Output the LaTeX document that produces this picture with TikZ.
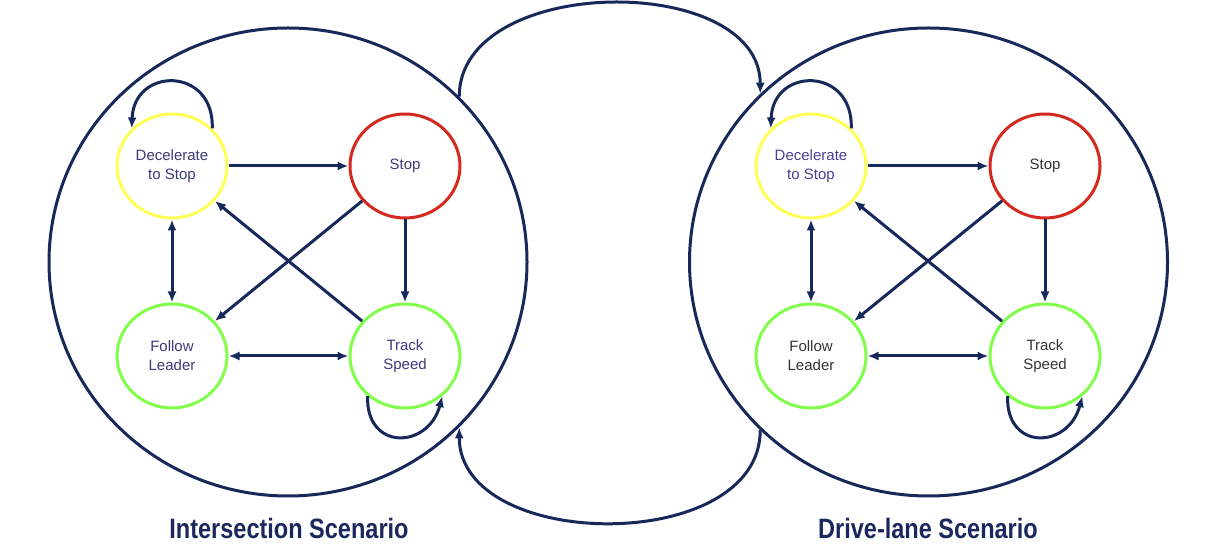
\documentclass[tikz,border=0pt]{standalone}
\usepackage{fontspec}
\setmainfont{Liberation Sans}
\usetikzlibrary{arrows.meta,shapes.geometric}
\definecolor{navy}{HTML}{17295A}
\definecolor{titlenavy}{HTML}{1C275E}
\definecolor{lnav}{HTML}{3A3A7C}
\definecolor{rpurp}{HTML}{4A3F92}
\definecolor{rgray}{HTML}{333333}
\definecolor{syellow}{HTML}{FFFF55}
\definecolor{sred}{HTML}{D22A1E}
\definecolor{sgreen}{HTML}{80FF4A}
\begin{document}
\begin{tikzpicture}[x=1pt,y=1pt,
  big/.style={ellipse, draw=navy, line width=3pt, minimum width=478pt, minimum height=468pt, inner sep=0pt},
  st/.style={ellipse, line width=3pt, minimum width=110pt, minimum height=104pt, inner sep=0pt, align=center, font=\fontsize{15}{19}\selectfont},
  yel/.style={st, draw=syellow},
  rd/.style={st, draw=sred},
  gr/.style={st, draw=sgreen},
  conn/.style={draw=navy, line width=3pt, -{Latex[length=11pt,width=9pt]}},
  dconn/.style={draw=navy, line width=3pt, {Latex[length=11pt,width=9pt]}-{Latex[length=11pt,width=9pt]}},
  ttl/.style={font=\fontsize{28}{32}\selectfont\bfseries, text=titlenavy, anchor=base}
]
\useasboundingbox (0,0) rectangle (1213,557);

% big scenario circles
\node[big] (L) at (288,295) {};
\node[big] (R) at (928.5,295) {};

% left states
\node[yel, text=lnav] (Ldec) at (172,391) {Decelerate\\to Stop};
\node[rd, text=lnav] (Lstop) at (405,391) {Stop};
\node[gr, text=lnav] (Lfol) at (172,201) {Follow\\Leader};
\node[gr, text=lnav] (Ltrk) at (405,201) {Track\\Speed};

% right states
\node[yel, text=rpurp] (Rdec) at (811,391) {Decelerate\\to Stop};
\node[rd, text=rgray] (Rstop) at (1045,391) {Stop};
\node[gr, text=rgray] (Rfol) at (811,201) {Follow\\Leader};
\node[gr, text=rgray] (Rtrk) at (1045,201) {Track\\Speed};

% left connectors
\draw[conn] (Ldec) -- (Lstop);
\draw[conn] (Lstop) -- (Ltrk);
\draw[dconn] (Ldec) -- (Lfol);
\draw[dconn] (Lfol) -- (Ltrk);
\draw[conn] (Lstop) -- (Lfol);
\draw[conn] (Ltrk) -- (Ldec);
\draw[conn] (Ldec.43) .. controls +(88:62) and +(88:62) .. (Ldec.137);
\draw[conn] (Ltrk.-133) .. controls +(-92:55) and +(-105:55) .. (Ltrk.-47);

% right connectors
\draw[conn] (Rdec) -- (Rstop);
\draw[conn] (Rstop) -- (Rtrk);
\draw[dconn] (Rdec) -- (Rfol);
\draw[dconn] (Rfol) -- (Rtrk);
\draw[conn] (Rstop) -- (Rfol);
\draw[conn] (Rtrk) -- (Rdec);
\draw[conn] (Rdec.43) .. controls +(88:62) and +(88:62) .. (Rdec.137);
\draw[conn] (Rtrk.-133) .. controls +(-92:55) and +(-105:55) .. (Rtrk.-47);

% scenario transitions
\draw[conn] (L.44) .. controls +(0,123) and +(0,122) .. (R.135);
\draw[conn] (R.225) .. controls +(0,-125) and +(0,-125) .. (L.-44);

% titles
\node[ttl] (Lt) at (289,18) {\scalebox{0.84}[1]{Intersection Scenario}};
\node[ttl] (Rt) at (928,18) {\scalebox{0.84}[1]{Drive-lane Scenario}};
\end{tikzpicture}
\end{document}
